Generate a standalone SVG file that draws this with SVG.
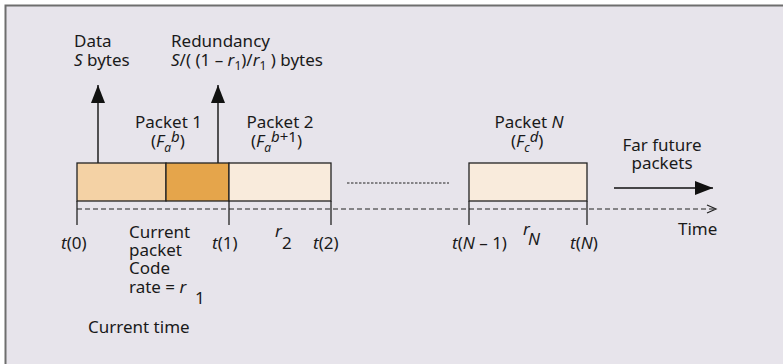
<svg xmlns="http://www.w3.org/2000/svg" width="783" height="364" viewBox="0 0 783 364">
  <style>
    text { font-family: "Noto Sans", "Liberation Sans", sans-serif; font-size: 17px; fill: #1a1a1a; }
    .it { font-style: italic; }
    .sm { font-size: 12px; }
    .box { stroke: #222; stroke-width: 1.3; }
    .tick { stroke: #222; stroke-width: 1.3; fill: none; }
    .conn { stroke: #111; stroke-width: 1.4; fill: none; }
    .axis { stroke: #222; stroke-width: 1.2; fill: none; stroke-dasharray: 5 3; }
    .dots { stroke: #222; stroke-width: 1; fill: none; stroke-dasharray: 2.5 1.5; }
    .mid { text-anchor: middle; }
  </style>
  <defs>
    <marker id="solidHead" viewBox="0 0 18 14" refX="18" refY="7" markerWidth="18" markerHeight="14" markerUnits="userSpaceOnUse" orient="auto">
      <path d="M0,0 L18,7 L0,14 Z" fill="#111"/>
    </marker>
    <marker id="openHead" viewBox="0 0 10 10" refX="9.5" refY="5" markerWidth="10" markerHeight="10" markerUnits="userSpaceOnUse" orient="auto">
      <path d="M0.5,1 L9.5,5 L0.5,9" fill="none" stroke="#222" stroke-width="1.2"/>
    </marker>
  </defs>

  <!-- page and frame -->
  <rect x="0" y="0" width="783" height="364" fill="#ffffff"/>
  <rect x="5" y="5" width="778" height="359" fill="#e7e4eb"/>
  <path d="M5.5,364 V5.5 H783" fill="none" stroke="#6e6e6e" stroke-width="2"/>

  <!-- time axis -->
  <g id="connectors">
    <line class="axis" x1="77" y1="209" x2="715" y2="209"/>
    <path d="M707,205 L716,209 L707,213" fill="none" stroke="#222" stroke-width="1.2"/>
    <line class="dots" x1="347" y1="183" x2="449" y2="183"/>
    <!-- data / redundancy arrows -->
    <line class="conn" x1="98" y1="179" x2="98" y2="85" marker-end="url(#solidHead)"/>
    <line class="conn" x1="218" y1="179" x2="218" y2="85" marker-end="url(#solidHead)"/>
    <!-- far future arrow -->
    <line class="conn" x1="614" y1="188" x2="713" y2="188" marker-end="url(#solidHead)"/>
  </g>

  <!-- packet 1: data + redundancy -->
  <g id="packet1">
    <rect class="box" x="77" y="163" width="89" height="38" fill="#f4d2a5"/>
    <rect class="box" x="166" y="163" width="63" height="38" fill="#e5a54b"/>
    <text class="mid" x="168.5" y="128">Packet 1</text>
    <text x="151" y="147">(<tspan class="it">F</tspan><tspan class="it sm" y="152">a</tspan><tspan class="it" y="142" font-size="15">b</tspan><tspan y="147">)</tspan></text>
  </g>

  <!-- packet 2 -->
  <g id="packet2">
    <rect class="box" x="229" y="163" width="102" height="38" fill="#f9ebdc"/>
    <text class="mid" x="280" y="128">Packet 2</text>
    <text x="251" y="147">(<tspan class="it">F</tspan><tspan class="it sm" y="152">a</tspan><tspan y="142" font-size="15"><tspan class="it">b</tspan>+1</tspan><tspan y="147">)</tspan></text>
  </g>

  <!-- packet N -->
  <g id="packetN">
    <rect class="box" x="469" y="163" width="118" height="38" fill="#f9ebdc"/>
    <text class="mid" x="529" y="128">Packet <tspan class="it">N</tspan></text>
    <text x="511" y="147">(<tspan class="it">F</tspan><tspan class="it sm" y="152">c</tspan><tspan class="it" y="142" font-size="15">d</tspan><tspan y="147">)</tspan></text>
  </g>

  <!-- tick marks at packet boundaries -->
  <g id="ticks">
    <line class="tick" x1="77" y1="201" x2="77" y2="225"/>
    <line class="tick" x1="229" y1="201" x2="229" y2="225"/>
    <line class="tick" x1="331" y1="201" x2="331" y2="225"/>
    <line class="tick" x1="469" y1="201" x2="469" y2="225"/>
    <line class="tick" x1="587" y1="201" x2="587" y2="225"/>
  </g>

  <!-- upper labels -->
  <g id="data-label">
    <text x="74" y="47">Data</text>
    <text x="74" y="66"><tspan class="it">S</tspan> bytes</text>
  </g>
  <g id="redundancy-label">
    <text x="171" y="47">Redundancy</text>
    <text x="171" y="66"><tspan class="it">S</tspan>/( (1 – <tspan class="it">r</tspan><tspan class="sm" y="70">1</tspan><tspan y="66">)/</tspan><tspan class="it">r</tspan><tspan class="sm" y="70">1</tspan><tspan y="66"> ) bytes</tspan></text>
  </g>
  <g id="far-future">
    <text class="mid" x="662" y="151">Far future</text>
    <text class="mid" x="662" y="169">packets</text>
  </g>

  <!-- time labels -->
  <g id="time-labels">
    <text x="61" y="249"><tspan class="it">t</tspan>(0)</text>
    <text x="212" y="249"><tspan class="it">t</tspan>(1)</text>
    <text x="313" y="249"><tspan class="it">t</tspan>(2)</text>
    <text x="452" y="249"><tspan class="it">t</tspan>(<tspan class="it">N</tspan> – 1)</text>
    <text x="570" y="249"><tspan class="it">t</tspan>(<tspan class="it">N</tspan>)</text>
    <text class="it" x="275" y="237">r</text>
    <text x="282" y="249">2</text>
    <text class="it" x="523" y="235">r</text>
    <text class="it" x="528" y="245">N</text>
    <text x="678" y="235">Time</text>
  </g>

  <g id="current-packet">
    <text x="129" y="238">Current</text>
    <text x="129" y="256">packet</text>
    <text x="129" y="274">Code</text>
    <text x="129" y="293">rate = <tspan class="it">r</tspan></text>
    <text x="195" y="304">1</text>
  </g>

  <g id="current-time">
    <text x="88" y="333">Current time</text>
  </g>
</svg>
